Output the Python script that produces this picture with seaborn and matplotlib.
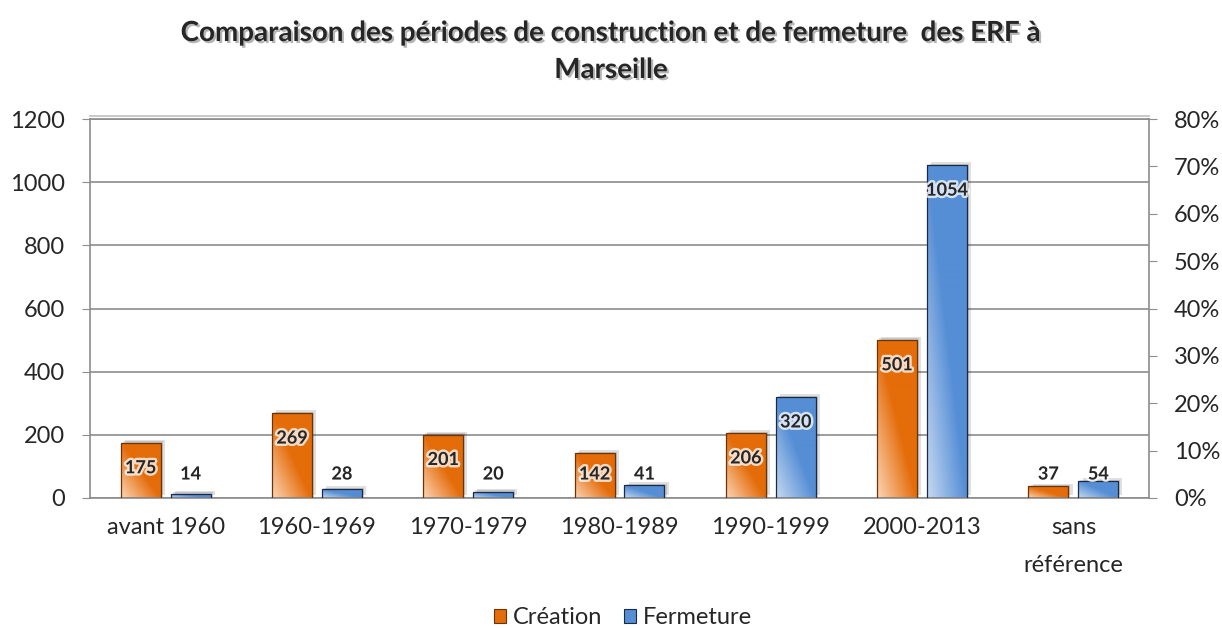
import numpy as np
import pandas as pd
import seaborn as sns
import matplotlib.pyplot as plt
import matplotlib.patheffects as pe
from matplotlib.patches import Rectangle, Patch
from matplotlib.colors import to_rgb
from matplotlib.ticker import PercentFormatter

# data
periodes = ['avant 1960', '1960-1969', '1970-1979', '1980-1989', '1990-1999', '2000-2013', 'sans\nréférence']
creation = [175, 269, 201, 142, 206, 501, 37]
fermeture = [14, 28, 20, 41, 320, 1054, 54]
series = ['Création', 'Fermeture']

sns.set_style('white')
plt.rcParams['font.family'] = ['Lato', 'DejaVu Sans']

df = pd.DataFrame({
    'periode': periodes * 2,
    'valeur': creation + fermeture,
    'serie': [series[0]] * len(periodes) + [series[1]] * len(periodes),
})

dark = {'Création': '#E46C0A', 'Fermeture': '#558ED5'}
light = {'Création': '#FCD5B5', 'Fermeture': '#C6D9F1'}
edge = {'Création': '#6B3306', 'Fermeture': '#1B2A44'}

fig = plt.figure(figsize=(12.22, 6.28), dpi=100)
ax = fig.add_axes([90 / 1222, 1 - 498 / 628, 1059 / 1222, 379 / 628])

sns.barplot(data=df, x='periode', y='valeur', hue='serie', order=periodes,
            hue_order=series, palette=dark, width=0.66, gap=0.2,
            linewidth=0, legend=False, ax=ax, zorder=2)

ax.set_ylim(0, 1200)
ax.set_xlim(-0.5, len(periodes) - 0.5)
ax.set_yticks(range(0, 1201, 200))
ax.yaxis.grid(True, color='#8C8C8C', linewidth=1.2, zorder=0)
ax.set_axisbelow(True)
ax.set_xlabel('')
ax.set_ylabel('')
for s in ['left', 'bottom', 'right', 'top']:
    ax.spines[s].set_color('#8C8C8C')
    ax.spines[s].set_linewidth(1.2)
ax.spines['top'].set_path_effects([pe.SimpleLineShadow(offset=(0, 2), alpha=0.25, rho=0.5), pe.Normal()])
ax.tick_params(axis='y', length=6, color='#8C8C8C', labelsize=17, pad=12, left=True)
ax.tick_params(axis='x', length=0, labelsize=17, pad=14)

# gradient fill + shadow + labels for every bar
px_per_unit = 379 / 1200
for cont, serie in zip(ax.containers, series):
    for bar, val in zip(cont.patches, cont.datavalues):
        x0, w = bar.get_x(), bar.get_width()
        h = bar.get_height()
        bar.set_path_effects([pe.SimplePatchShadow(offset=(3, 2), shadow_rgbFace='#000000', alpha=0.12),
                              pe.SimplePatchShadow(offset=(1.5, 1), shadow_rgbFace='#000000', alpha=0.12),
                              pe.Normal()])
        u, v = np.meshgrid(np.linspace(0, 1, 40), np.linspace(0, 1, 80))
        t = np.clip((u + v) / 1.0, 0, 1)
        c0, c1 = np.array(to_rgb(light[serie])), np.array(to_rgb(dark[serie]))
        img = c0 + (c1 - c0) * t[..., None]
        im = ax.imshow(img, extent=(x0, x0 + w, 0, h), origin='lower', aspect='auto',
                       interpolation='bilinear', zorder=2.5)
        im.set_clip_path(bar)
        ax.add_patch(Rectangle((x0, 0), w, h, fill=False, edgecolor=edge[serie],
                               linewidth=0.9, zorder=3))
        ypos = max(val - 25 / px_per_unit, 24 / px_per_unit)
        ax.text(x0 + w / 2, ypos, f'{int(val)}', ha='center', va='center',
                fontsize=13, fontweight='bold', zorder=4,
                path_effects=[pe.withStroke(linewidth=3.5, foreground='white', alpha=0.75)])

ax.set_xlim(-0.5, len(periodes) - 0.5)
ax.set_ylim(0, 1200)

ax2 = ax.twinx()
ax2.set_ylim(0, 0.8)
ax2.set_yticks(np.arange(0, 0.81, 0.1))
ax2.yaxis.set_major_formatter(PercentFormatter(1.0, decimals=0))
ax2.grid(False)
for s in ['left', 'bottom', 'right', 'top']:
    ax2.spines[s].set_visible(False)
ax2.tick_params(axis='y', length=6, color='#8C8C8C', labelsize=17, pad=12, right=True)

# two-line category label needs more room between lines
ax.set_xticks(range(len(periodes)))
ax.set_xticklabels(periodes, linespacing=1.95)

title_fx = [pe.withSimplePatchShadow(offset=(1.5, -1.5), alpha=0.3)]
fig.text(0.5, 1 - 33 / 628, 'Comparaison des périodes de construction et de fermeture  des ERF à',
         ha='center', va='center', fontsize=20, fontweight='bold', path_effects=title_fx)
fig.text(0.5, 1 - 70 / 628, 'Marseille', ha='center', va='center', fontsize=20,
         fontweight='bold', path_effects=title_fx)

handles = [Patch(facecolor=dark[s], edgecolor=edge[s], linewidth=0.8, label=s) for s in series]
fig.legend(handles=handles, loc='center', bbox_to_anchor=(0.51, 1 - 618 / 628), ncol=2,
           frameon=False, fontsize=17, handlelength=0.5, handleheight=0.5,
           handletextpad=0.3, columnspacing=0.9)

fig.savefig('out.png', dpi=100)
